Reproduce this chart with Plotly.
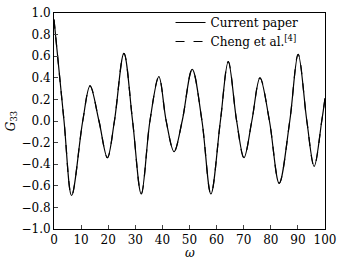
import plotly.graph_objects as go

# Values (extrema and zero crossings)
omega = [0, 3.7, 6.5, 10.6, 13.3, 16.6, 19.7, 22.3, 25.8, 29.0, 32.2, 35.4, 38.7,
         41.4, 44.3, 47.3, 51.0, 54.6, 57.9, 61.4, 64.3, 67.4, 70.1, 73.0, 76.0,
         79.5, 83.1, 87.0, 90.1, 93.3, 96.0, 98.8, 100]
g33_current = [0.94, 0, -0.69, 0, 0.325, 0, -0.34, 0, 0.627, 0, -0.676, 0, 0.41,
               0, -0.284, 0, 0.478, 0, -0.676, 0, 0.55, 0, -0.34, 0, 0.40,
               0, -0.577, 0, 0.617, 0, -0.42, 0, 0.21]
g33_cheng = list(g33_current)

x_ticks = [0, 10, 20, 30, 40, 50, 60, 70, 80, 90, 100]
y_ticks = [-1.0, -0.8, -0.6, -0.4, -0.2, 0.0, 0.2, 0.4, 0.6, 0.8, 1.0]

FONT = "DejaVu Serif"

fig = go.Figure()
fig.add_trace(go.Scatter(x=omega, y=g33_current, mode="lines", name="Current paper",
                         line=dict(color="black", width=1.2, shape="spline", smoothing=1.0)))
fig.add_trace(go.Scatter(x=omega, y=g33_cheng, mode="lines", name="Cheng et al.<sup>[4]</sup>",
                         line=dict(color="black", width=1.2, dash="dash", shape="spline", smoothing=1.0)))

fig.update_layout(
    width=340, height=259,
    margin=dict(l=54, r=15, t=13, b=30, autoexpand=False),
    paper_bgcolor="white", plot_bgcolor="white",
    font=dict(family=FONT, size=12, color="black"),
    showlegend=True,
    legend=dict(x=0.43, xanchor="left", y=1 - 8 / 259, yref="container", yanchor="top",
                bgcolor="rgba(0,0,0,0)", borderwidth=0,
                font=dict(family=FONT, size=12), tracegroupgap=0),
    xaxis=dict(range=[0, 100], tickvals=x_ticks, ticks="inside", ticklen=4,
               showline=True, linecolor="black", linewidth=1, mirror=True,
               showgrid=False, zeroline=False, automargin=False),
    yaxis=dict(range=[-1.0, 1.0], tickvals=y_ticks, tickformat=".1f", ticks="inside", ticklen=4,
               showline=True, linecolor="black", linewidth=1, mirror=True,
               showgrid=False, zeroline=False, automargin=False,
               title=dict(text="<i>G</i><sub>33</sub>", standoff=3, font=dict(size=12))),
    annotations=[dict(text="<i>ω</i>", x=0.5, y=-0.113, xref="paper", yref="paper",
                      xanchor="center", yanchor="middle", showarrow=False,
                      font=dict(family=FONT, size=12))],
)

fig.write_html("out.html")
